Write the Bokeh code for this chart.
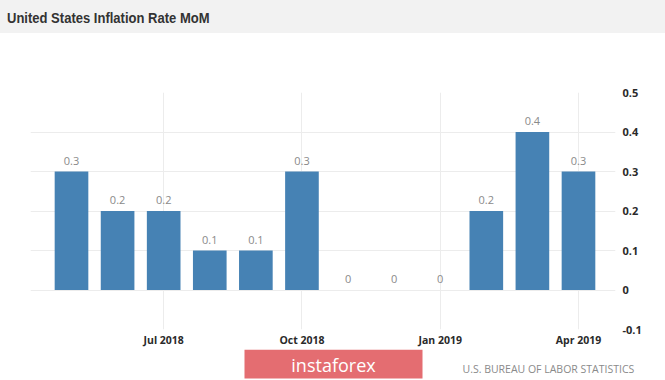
from bokeh.plotting import figure
from bokeh.models import ColumnDataSource, FixedTicker, Div, Range1d
from bokeh.layouts import column
from bokeh.core.properties import value
from bokeh.embed import file_html
from bokeh.resources import INLINE

# ---- data ----
months = ["May 2018", "Jun 2018", "Jul 2018", "Aug 2018", "Sep 2018", "Oct 2018",
          "Nov 2018", "Dec 2018", "Jan 2019", "Feb 2019", "Mar 2019", "Apr 2019"]
rates = [0.3, 0.2, 0.2, 0.1, 0.1, 0.3, 0.0, 0.0, 0.0, 0.2, 0.4, 0.3]
x_tick_labels = ["Jul 2018", "Oct 2018", "Jan 2019", "Apr 2019"]
y_ticks = [-0.1, 0.0, 0.1, 0.2, 0.3, 0.4, 0.5]
title_text = "United States Inflation Rate MoM"
source_text = "U.S. BUREAU OF LABOR STATISTICS"
logo_text = "instaforex"

idx = list(range(len(months)))
x_tick_pos = [months.index(m) for m in x_tick_labels]
labels = ["0" if v == 0 else f"{v:g}" for v in rates]
src = ColumnDataSource(dict(x=idx, top=rates, label=labels))

W = 665
FRAME_L, FRAME_R = 30, 615

header = Div(
    text=('<span style="display:inline-block;transform:scaleX(0.84);transform-origin:left center;'
          'white-space:nowrap">' + title_text + '</span>'),
    width=W, height=33, margin=0,
    styles={"background-color": "#f2f2f2", "font-family": "'Liberation Sans', Arial, sans-serif",
            "font-weight": "bold", "font-size": "15.5px", "color": "#333333",
            "line-height": "17px", "padding-top": "9px", "padding-left": "7px",
            "box-sizing": "border-box", "overflow": "hidden"},
)

p = figure(width=W, height=316, output_backend="svg", toolbar_location=None,
           x_range=Range1d(-0.8896, 11.803), y_range=Range1d(-0.1, 0.5),
           y_axis_location="right", margin=0,
           min_border_left=FRAME_L, min_border_right=W - FRAME_R, min_border_top=59, min_border_bottom=19)
p.outline_line_color = None
p.background_fill_color = "white"
p.border_fill_color = "white"

p.vbar(x="x", top="top", width=0.73, bottom=0, source=src,
       fill_color="#4682b4", line_color=None)
p.text(x="x", y="top", text="label", source=src, text_align="center", text_baseline="bottom",
       y_offset=-7, text_font=value("Open Sans"), text_font_size="11px", text_color="#8a8a8a")

p.xaxis.ticker = FixedTicker(ticks=x_tick_pos)
p.xaxis.major_label_overrides = {pos: lab for pos, lab in zip(x_tick_pos, x_tick_labels)}
p.yaxis.ticker = FixedTicker(ticks=y_ticks)
p.yaxis.major_label_overrides = {t: ("0" if t == 0 else f"{t:g}") for t in y_ticks}

for ax in (p.xaxis[0], p.yaxis[0]):
    ax.axis_line_color = None
    ax.major_tick_line_color = None
    ax.minor_tick_line_color = None
    ax.major_tick_out = 0
    ax.major_tick_in = 0
    ax.major_label_text_font = "Open Sans"
    ax.major_label_text_font_style = "bold"
    ax.major_label_text_color = "#2a2a2a"
p.xaxis.major_label_text_font_size = "10.5px"
p.yaxis.major_label_text_font_size = "11px"
p.xaxis.major_label_standoff = 3
p.yaxis.major_label_standoff = 7

p.xgrid.ticker = FixedTicker(ticks=x_tick_pos)
p.ygrid.ticker = FixedTicker(ticks=y_ticks)
p.xgrid.grid_line_color = "#ececec"
p.ygrid.grid_line_color = "#ececec"

# footer strip (logo + source)
f = figure(width=W, height=31, output_backend="svg", toolbar_location=None,
           x_axis_type=None, y_axis_type=None,
           x_range=Range1d(0, W), y_range=Range1d(31, 0), margin=0,
           min_border_left=0, min_border_right=0, min_border_top=0, min_border_bottom=0)
if "frame_align" in f.properties():
    f.frame_align = False
    p.frame_align = False
f.grid.visible = False
f.outline_line_color = None
f.border_fill_color = "white"
f.background_fill_color = "white"
f.quad(left=[244], right=[422], top=[0], bottom=[29], fill_color="#e46d71", line_color=None)
f.text(x=[333], y=[15], text=[logo_text], text_align="center", text_baseline="middle",
       text_font=value("Open Sans"), text_font_size="18px", text_color="white")
f.text(x=[462], y=[19], text=[source_text], text_align="left", text_baseline="middle",
       text_font=value("Open Sans"), text_font_size="10.5px", text_color="#8a8a8a")

layout = column(header, p, f, spacing=0, margin=0)
open("out.html", "w").write(file_html(layout, INLINE))
